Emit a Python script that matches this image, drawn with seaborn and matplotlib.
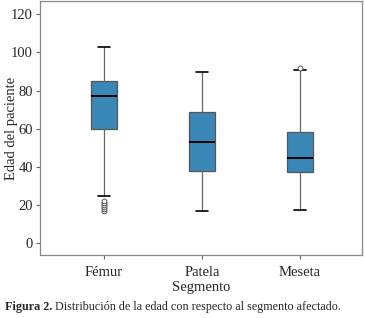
import matplotlib
matplotlib.use("Agg")
import matplotlib.pyplot as plt
import seaborn as sns

sns.set_style("white")
plt.rcParams['font.family'] = ['Liberation Serif', 'DejaVu Serif']

# summary values
segmentos = ["Fémur", "Patela", "Meseta"]
bigote_inf = [24.5, 17, 17.5]
q1 = [60, 38, 37]
mediana = [77, 53, 44.5]
q3 = [85, 68.5, 58.5]
bigote_sup = [103, 89.5, 91]
atipicos = [[17, 18, 19, 20, 21, 22], [], [92]]

stats = []
for i in range(len(segmentos)):
    stats.append({"label": segmentos[i], "whislo": bigote_inf[i], "q1": q1[i],
                  "med": mediana[i], "q3": q3[i], "whishi": bigote_sup[i],
                  "fliers": atipicos[i]})

fig = plt.figure(figsize=(3.65, 3.18), dpi=100)
ax = fig.add_axes([40/365, 1 - 255/318, 322/365, 254/318])

ax.bxp(stats, positions=[1, 2, 3], widths=0.26, patch_artist=True,
       boxprops=dict(facecolor="#3a87b7", edgecolor="#555555", linewidth=0.9),
       medianprops=dict(color="black", linewidth=1.4),
       whiskerprops=dict(color="#666666", linewidth=0.9),
       capprops=dict(color="black", linewidth=1.2),
       capwidths=0.13,
       flierprops=dict(marker="o", markersize=3.5, markerfacecolor="white",
                       markeredgecolor="#555555", markeredgewidth=0.7))

ax.set_xlim(0.347, 3.633)
ax.set_ylim(-6.3, 127)
ax.set_yticks([0, 20, 40, 60, 80, 100, 120])
ax.tick_params(axis="both", direction="out", length=3, width=0.8, color="#666666",
               labelsize=10.5, left=True, bottom=True, pad=2)
ax.tick_params(axis="x", pad=5)
for s in ax.spines.values():
    s.set_color("#888888")
    s.set_linewidth(0.9)
ax.set_xlabel("Segmento", fontsize=10.5, labelpad=1)
ax.set_ylabel("Edad del paciente", fontsize=10.5)
ax.yaxis.set_label_coords(-(40 - 18) / 322, 0.5)

t1 = fig.text(5/365, 1 - 307/318, "Figura 2.", fontsize=8.7, fontweight="bold", va="center")
fig.canvas.draw()
bb = t1.get_window_extent()
fig.text((bb.x1 + 3) / fig.bbox.width, 1 - 307/318,
         "Distribución de la edad con respecto al segmento afectado.",
         fontsize=8.7, va="center")

fig.savefig("out.png", dpi=100)
